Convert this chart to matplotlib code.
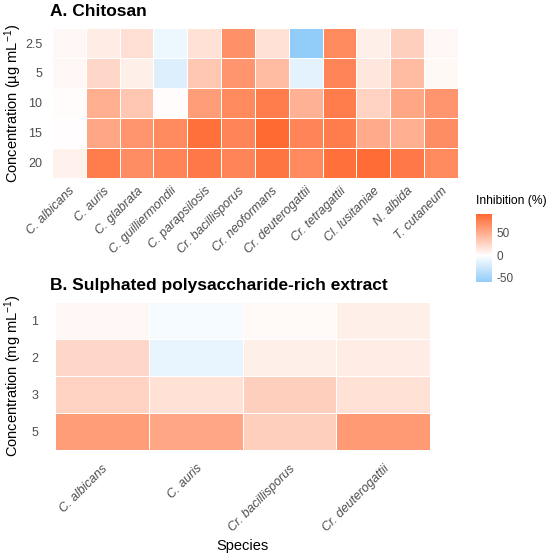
import numpy as np
import matplotlib
matplotlib.use('Agg')
import matplotlib.pyplot as plt
from matplotlib.colors import LinearSegmentedColormap, Normalize

plt.rcParams['font.family'] = ['Liberation Sans', 'DejaVu Sans']
plt.rcParams['mathtext.fontset'] = 'custom'
plt.rcParams['mathtext.rm'] = 'Liberation Sans'
plt.rcParams['mathtext.it'] = 'Liberation Sans:italic'

# ---- data ----
species_a = ['C. albicans', 'C. auris', 'C. glabrata', 'C. guilliermondii',
             'C. parapsilosis', 'Cr. bacillisporus', 'Cr. neoformans',
             'Cr. deuterogattii', 'Cr. tetragattii', 'Cl. lusitaniae',
             'N. albida', 'T. cutaneum']
conc_a = ['2.5', '5', '10', '15', '20']
inhib_a_25 = [5, 12, 20, -10, 18, 68, 18, -59, 72, 10, 30, 5]
inhib_a_5 = [5, 25, 10, -18, 35, 65, 42, -15, 75, 15, 42, 4]
inhib_a_10 = [2, 50, 35, 2, 60, 72, 80, 48, 80, 28, 55, 65]
inhib_a_15 = [1, 55, 65, 72, 88, 75, 92, 75, 80, 52, 50, 70]
inhib_a_20 = [8, 80, 70, 75, 82, 75, 85, 72, 88, 90, 82, 72]

species_b = ['C. albicans', 'C. auris', 'Cr. bacillisporus', 'Cr. deuterogattii']
conc_b = ['1', '2', '3', '5']
inhib_b_1 = [5, -5, 3, 10]
inhib_b_2 = [25, -12, 10, 12]
inhib_b_3 = [28, 18, 30, 18]
inhib_b_5 = [60, 55, 30, 62]

cbar_ticks = [-50, 0, 50]

A = np.array([inhib_a_25, inhib_a_5, inhib_a_10, inhib_a_15, inhib_a_20], float)
B = np.array([inhib_b_1, inhib_b_2, inhib_b_3, inhib_b_5], float)

lo = min(A.min(), B.min())
hi = max(A.max(), B.max())
vmax = max(abs(lo), abs(hi))
cmap = LinearSegmentedColormap.from_list('div', ['#56B1F7', '#FFFFFF', '#FF6A33'])
norm = Normalize(-vmax, vmax)

fig = plt.figure(figsize=(5.5, 5.56), dpi=100)
txt_col = '#4D4D4D'


def heat(ax, data, xlabels, ylabels, xpad, ypad):
    ax.pcolormesh(np.arange(data.shape[1] + 1), np.arange(data.shape[0] + 1), data,
                  cmap=cmap, norm=norm, edgecolor='white', linewidth=0.5)
    ax.set_xlim(0, data.shape[1])
    ax.set_ylim(data.shape[0], 0)
    ax.set_xticks(np.arange(data.shape[1]) + 0.5)
    ax.set_xticklabels(xlabels, rotation=45, ha='right', rotation_mode='anchor',
                       fontstyle='italic', color=txt_col, fontsize=9)
    ax.set_yticks(np.arange(data.shape[0]) + 0.5)
    ax.set_yticklabels(ylabels, color=txt_col, fontsize=9)
    ax.tick_params(axis='x', length=0, pad=xpad)
    ax.tick_params(axis='y', length=0, pad=ypad)
    for s in ax.spines.values():
        s.set_visible(False)


axA = fig.add_axes([0.0945, 0.680, 0.738, 0.2696])
heat(axA, A, species_a, conc_a, 5, 7)
axA.set_ylabel('Concentration (µg mL$^{-1}$)', fontsize=10.5)
axA.yaxis.set_label_coords(-0.069, 0.5)
axA.set_title('A. Chitosan', loc='left', fontsize=12.5, fontweight='bold', pad=9, x=-0.005)

axB = fig.add_axes([0.100, 0.1906, 0.682, 0.2662])
heat(axB, B, species_b, conc_b, 9, 12)
axB.set_ylabel('Concentration (mg mL$^{-1}$)', fontsize=10.5)
axB.yaxis.set_label_coords(-0.083, 0.5)
axB.set_xlabel('Species', fontsize=10.5, labelpad=4)
axB.set_title('B. Sulphated polysaccharide-rich extract', loc='left', fontsize=12.5,
              fontweight='bold', pad=9, x=-0.013)

cax = fig.add_axes([0.8655, 0.4928, 0.0273, 0.1223])
grad = np.linspace(lo, hi, 256)[:, None]
cax.imshow(grad, cmap=cmap, norm=norm, origin='lower', aspect='auto',
           extent=[0, 1, lo, hi])
cax.set_xticks([])
cax.yaxis.tick_right()
cax.set_yticks(cbar_ticks)
cax.set_yticklabels([str(t) for t in cbar_ticks], color=txt_col, fontsize=8.5)
cax.tick_params(length=0, pad=4)
for s in cax.spines.values():
    s.set_visible(False)
cax.set_title('Inhibition (%)', fontsize=8.7, loc='left', pad=7, x=0.0)

fig.savefig('out.png', dpi=100)
